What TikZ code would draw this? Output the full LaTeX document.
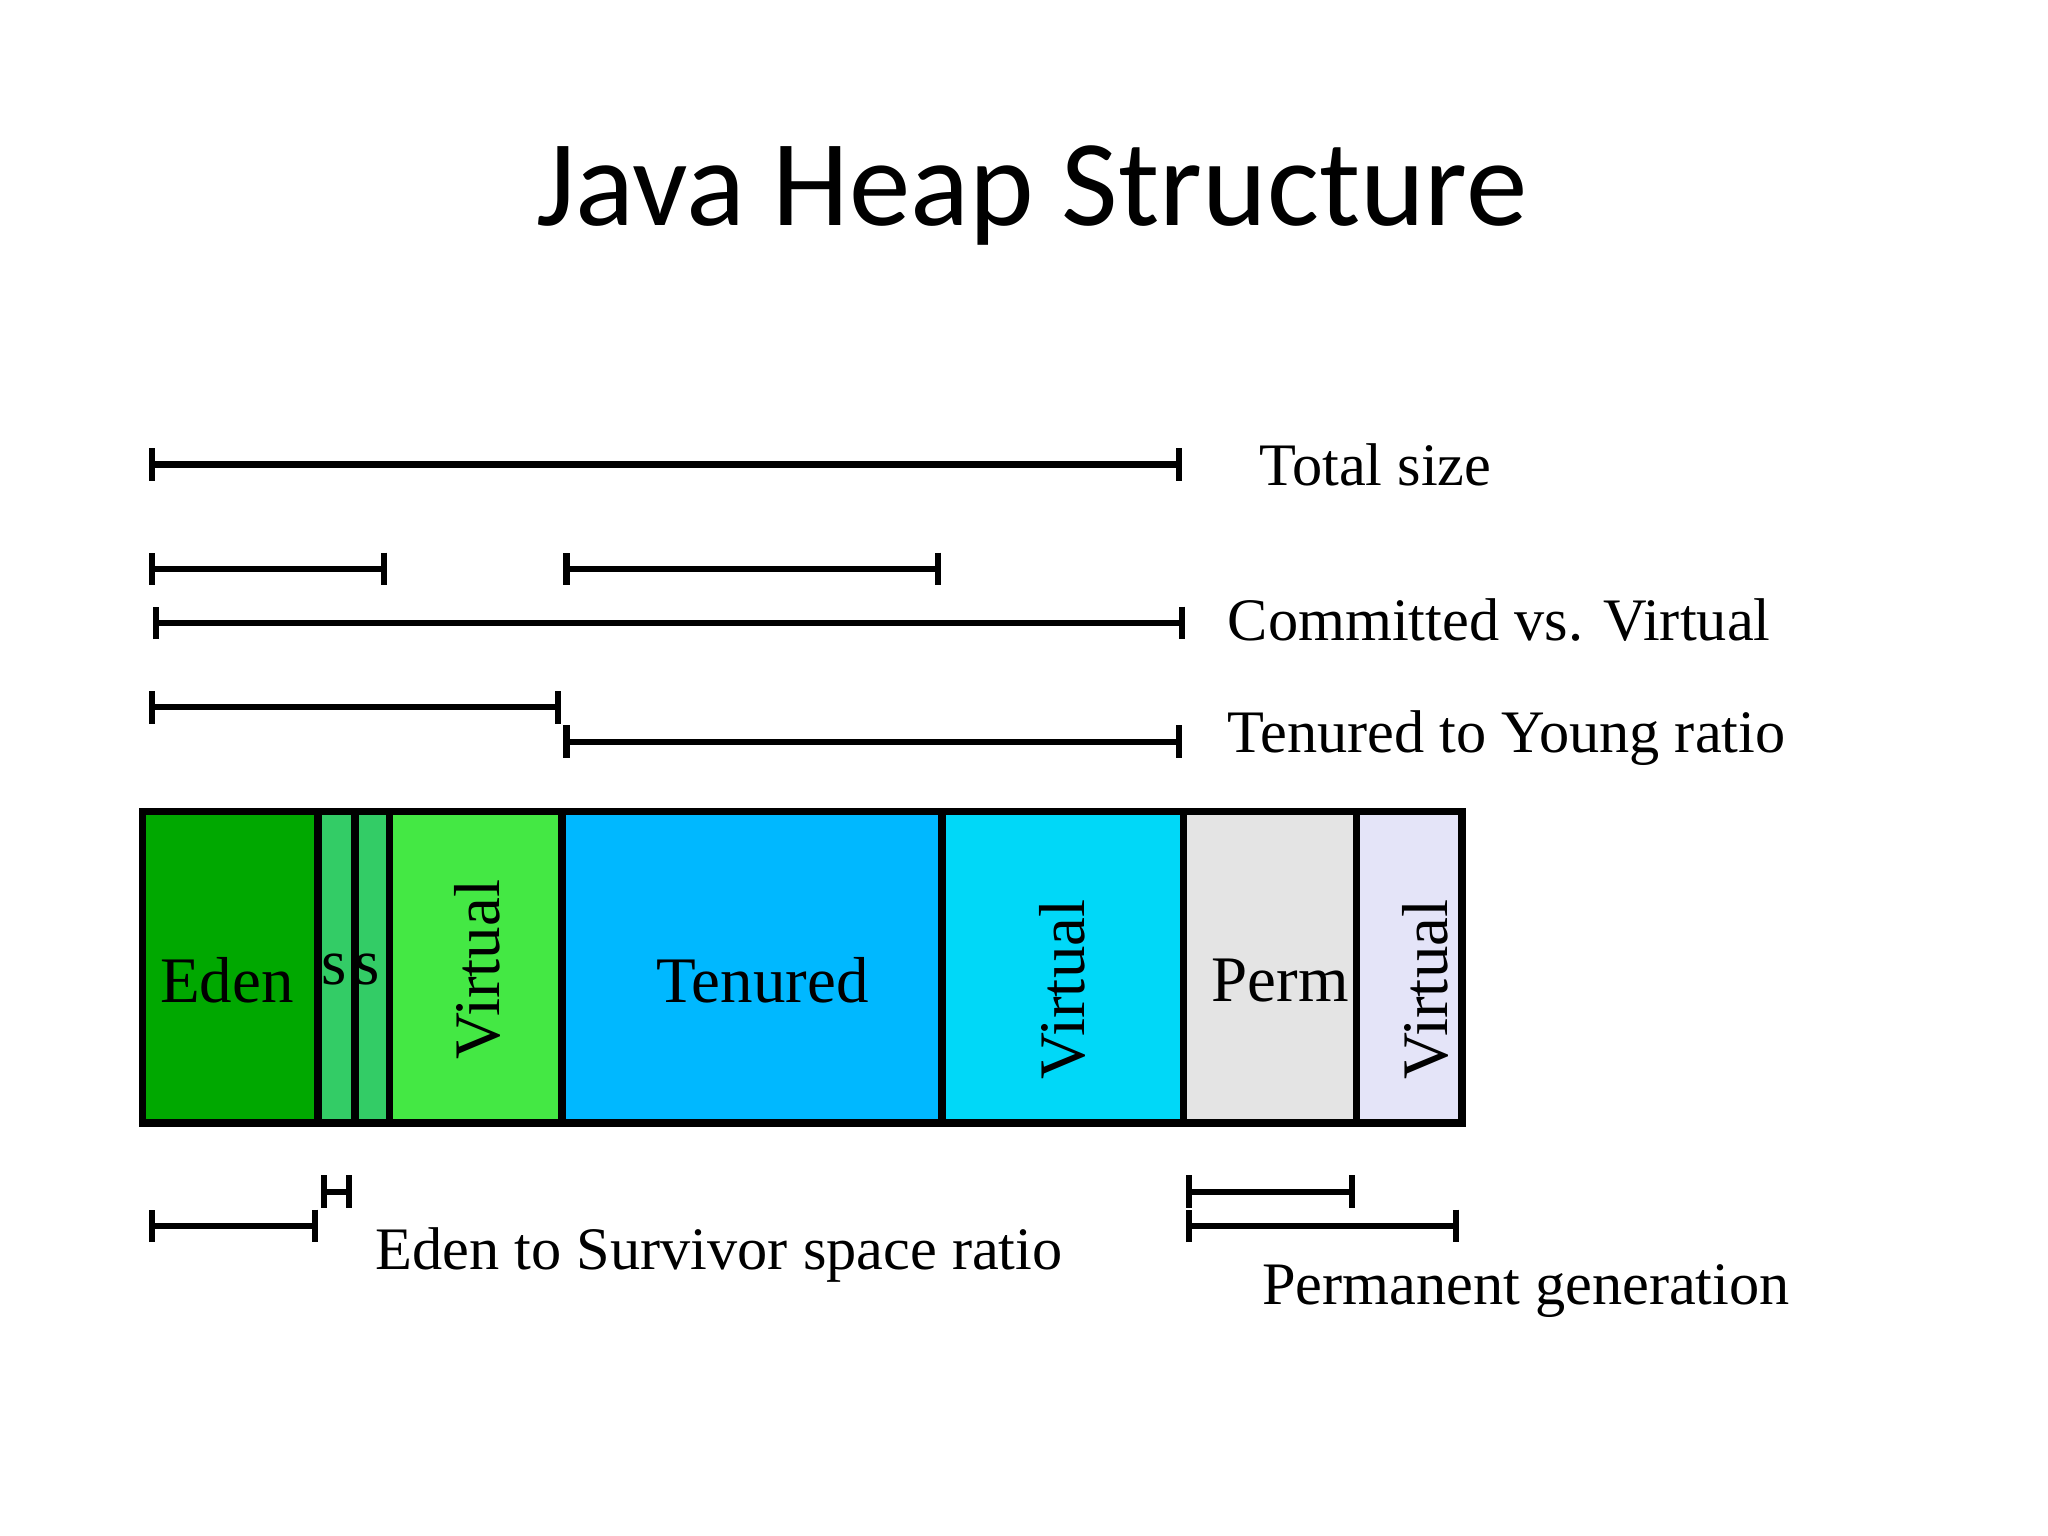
\documentclass[tikz,border=0pt]{standalone}
\usepackage{fontspec}
\setmainfont{Liberation Serif}
\newfontfamily\titlefont{Carlito}
\usetikzlibrary{arrows.meta}
\definecolor{eden}{HTML}{00A800}
\definecolor{surv}{HTML}{33CC66}
\definecolor{yvirt}{HTML}{44E844}
\definecolor{tenu}{HTML}{00B8FF}
\definecolor{tvirt}{HTML}{00D8F8}
\definecolor{perm}{HTML}{E4E4E4}
\definecolor{pvirt}{HTML}{E4E4F8}
\begin{document}
\begin{tikzpicture}[x=0.01cm,y=-0.01cm,
  dim/.style={line width=1.3pt,{Bar[width=7pt]}-{Bar[width=7pt]}},
  lbl/.style={font=\fontsize{13}{16}\selectfont,anchor=west},
  sect/.style={draw,line width=1.6pt},
  txt/.style={font=\fontsize{14}{17}\selectfont}]
\useasboundingbox (0,0) rectangle (1552,1164);
\node[font=\titlefont\fontsize{26.5}{30}\selectfont] (title) at (782,148) {Java Heap Structure};
% dimension lines
\draw[dim] (113,352) -- (896,352);
\node[lbl] (total) at (942,352) {Total size};
\draw[dim] (113,431) -- (293,431);
\draw[dim] (427,431) -- (713,431);
\draw[dim] (116,472) -- (898,472);
\node[lbl] (comm) at (918,470) {Committed vs. Virtual};
\draw[dim] (113,536) -- (425,536);
\draw[dim] (427,562) -- (896,562);
\node[lbl] (ratio) at (918,559) {Tenured to Young ratio};
% heap sections
\draw[sect,fill=eden] (108,615) rectangle (241,851);
\draw[sect,fill=surv] (241,615) rectangle (269,851);
\draw[sect,fill=surv] (269,615) rectangle (295,851);
\draw[sect,fill=yvirt] (295,615) rectangle (426,851);
\draw[sect,fill=tenu] (426,615) rectangle (714,851);
\draw[sect,fill=tvirt] (714,615) rectangle (897,851);
\draw[sect,fill=perm] (897,615) rectangle (1028,851);
\draw[sect,fill=pvirt] (1028,615) rectangle (1108,851);
\node[txt] (edenl) at (172,743) {Eden};
\node[txt] (s1l) at (253,735) {s};
\node[txt] (s2l) at (278,735) {s};
\node[txt,rotate=90] (yvl) at (362,735) {Virtual};
\node[txt] (tenl) at (578,743) {Tenured};
\node[txt,rotate=90] (tvl) at (805,750) {Virtual};
\node[txt] (perml) at (970,743) {Perm};
\node[txt,rotate=90] (pvl) at (1080,750) {Virtual};
% lower dimension lines
\draw[dim] (113,929) -- (241,929);
\draw[dim] (243,903) -- (267,903);
\node[font=\fontsize{13}{16}\selectfont] (esr) at (545,951) {Eden to Survivor space ratio};
\draw[dim] (899,903) -- (1027,903);
\draw[dim] (899,929) -- (1106,929);
\node[lbl] (pg) at (944,978) {Permanent generation};
\end{tikzpicture}
\end{document}
